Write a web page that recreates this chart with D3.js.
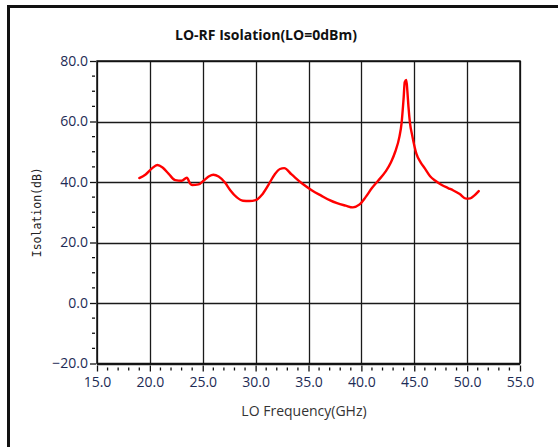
<!DOCTYPE html>
<html><head><meta charset="utf-8">
<script src="https://cdn.jsdelivr.net/npm/d3@7"></script>
<style>body{margin:0;background:#fff;}svg{display:block;}</style>
</head><body>
<script>
const freqGHz = [19.0,19.6,20.2,20.7,21.2,21.8,22.4,23.0,23.5,23.8,24.0,24.6,25.2,25.6,26.0,26.5,27.1,27.6,28.2,28.8,29.4,30.0,30.6,31.2,31.8,32.3,32.7,33.4,34.4,35.3,36.2,37.0,37.7,38.5,39.2,39.8,40.4,41.0,41.6,42.3,42.8,43.2,43.6,43.8,44.0,44.1,44.25,44.35,44.45,44.6,44.8,45.2,45.6,46.0,46.5,47.0,47.6,48.2,48.7,49.3,49.9,50.3,50.7,51.1];
const isolationDb = [41.3,42.5,44.5,45.6,44.8,42.6,40.6,40.4,41.4,39.5,39.0,39.2,40.8,41.9,42.4,41.8,39.8,37.3,35.0,33.8,33.7,34.0,35.8,39.0,42.5,44.3,44.6,42.5,39.5,37.3,35.5,34.0,33.0,32.2,31.6,32.5,35.0,38.0,40.5,43.5,46.5,50.0,55.0,59.4,68.0,73.0,73.7,70.0,65.0,59.4,55.5,49.4,46.5,44.5,41.9,40.4,39.0,38.0,37.2,36.0,34.5,34.6,35.6,37.0];
const xTicks = [15,20,25,30,35,40,45,50,55];
const yTicks = [-20,0,20,40,60,80];
const title = "LO-RF Isolation(LO=0dBm)";
const xTitle = "LO Frequency(GHz)";
const yTitle = "Isolation(dB)";

const W = 558, H = 447;
const L = 97, R = 520, T = 61, B = 363.5;
const FONT = "'Open Sans', 'DejaVu Sans', sans-serif";
const svg = d3.select("body").append("svg").attr("width", W).attr("height", H);
svg.append("rect").attr("width", W).attr("height", H).attr("fill", "#fff");
svg.append("rect").attr("x", 8.5).attr("y", 6.5).attr("width", 600).attr("height", 500)
  .attr("fill", "none").attr("stroke", "#111").attr("stroke-width", 3);

const x = d3.scaleLinear().domain([15, 55]).range([L, R]);
const y = d3.scaleLinear().domain([-20, 80]).range([B, T]);

const g = svg.append("g");
g.selectAll("line.vx").data(xTicks).join("line")
  .attr("x1", d => Math.round(x(d)) + 0.5).attr("x2", d => Math.round(x(d)) + 0.5)
  .attr("y1", T).attr("y2", B).attr("stroke", "#1a1a1a").attr("stroke-width", 1.3);
g.selectAll("line.hy").data(yTicks).join("line")
  .attr("y1", d => Math.round(y(d)) + 0.5).attr("y2", d => Math.round(y(d)) + 0.5)
  .attr("x1", L).attr("x2", R).attr("stroke", "#1a1a1a").attr("stroke-width", 1.3);
svg.append("rect").attr("x", L).attr("y", T).attr("width", R - L).attr("height", B - T)
  .attr("fill", "none").attr("stroke", "#111").attr("stroke-width", 1.5);

const xMinor = d3.range(15, 55.01, 1).filter(v => v % 5 !== 0);
const xa = svg.append("g").attr("transform", `translate(0,${B + 2})`)
  .call(d3.axisBottom(x).tickValues(xTicks).tickFormat(d3.format(".1f")).tickSize(6).tickPadding(6));
xa.select(".domain").remove();
xa.selectAll(".tick line").attr("stroke", "#111").attr("stroke-width", 1.3);
xa.selectAll(".tick text").attr("font-family", FONT).attr("font-size", 14).attr("fill", "#1d2b55");
svg.append("g").selectAll("line").data(xMinor).join("line")
  .attr("x1", d => x(d)).attr("x2", d => x(d)).attr("y1", B + 4).attr("y2", B + 7)
  .attr("stroke", "#111").attr("stroke-width", 1.3);

const yMinor = d3.range(-20, 80.01, 5).filter(v => v % 20 !== 0);
const ya = svg.append("g").attr("transform", `translate(${L - 1},0)`)
  .call(d3.axisLeft(y).tickValues(yTicks).tickFormat(d3.format(".1f")).tickSize(6).tickPadding(2));
ya.select(".domain").remove();
ya.selectAll(".tick line").attr("stroke", "#111").attr("stroke-width", 1.3);
ya.selectAll(".tick text").attr("font-family", FONT).attr("font-size", 14).attr("fill", "#1d2b55");
svg.append("g").selectAll("line").data(yMinor).join("line")
  .attr("y1", d => y(d)).attr("y2", d => y(d)).attr("x1", L - 5).attr("x2", L - 2)
  .attr("stroke", "#111").attr("stroke-width", 1.3);

const pts = freqGHz.map((f, i) => [f, isolationDb[i]]);
svg.append("path").datum(pts)
  .attr("d", d3.line().x(d => x(d[0])).y(d => y(d[1])).curve(d3.curveMonotoneX))
  .attr("fill", "none").attr("stroke", "#ff0000").attr("stroke-width", 2.4)
  .attr("stroke-linejoin", "round").attr("stroke-linecap", "round");

svg.append("text").attr("x", 266).attr("y", 40).attr("text-anchor", "middle")
  .attr("font-family", FONT).attr("font-weight", "bold")
  .attr("font-size", 14).attr("fill", "#111").text(title);
svg.append("text").attr("x", 304).attr("y", 416).attr("text-anchor", "middle")
  .attr("font-family", FONT).attr("font-size", 14).attr("fill", "#333").text(xTitle);
svg.append("text").attr("transform", `translate(41,${(T + B) / 2}) rotate(-90)`).attr("text-anchor", "middle")
  .attr("font-family", "'DejaVu Sans Mono', monospace")
  .attr("font-size", 11.5).attr("fill", "#222").text(yTitle);
</script>
</body></html>
